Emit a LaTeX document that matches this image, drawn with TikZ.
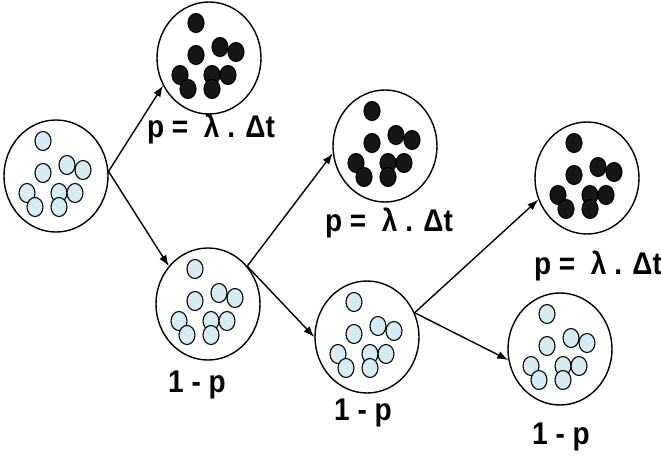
\documentclass[tikz,border=0pt]{standalone}
\usepackage{fontspec}
\setmainfont{Liberation Sans}
\usepackage{graphicx}
\usetikzlibrary{
  arrows.meta,
  shapes.geometric
}
\definecolor{paleblue}{RGB}{214,236,242}
\definecolor{inkblack}{RGB}{22,22,22}
\tikzset{
  bag/.style={ellipse,draw,line width=1.4pt,minimum width=104pt,minimum height=112pt,inner sep=0pt},
  lightdot/.style={draw,line width=1.1pt,fill=paleblue},
  darkdot/.style={draw,line width=1.1pt,fill=inkblack},
  branch/.style={-{Latex[length=11pt,width=8pt]},line width=1.4pt},
  lbl/.style={font=\fontsize{28}{32}\selectfont\bfseries,inner sep=0pt}
}
\newcommand{\tall}[1]{\scalebox{1}[1.12]{#1}}
\newcommand{\pgroup}[4]{%
  \node[bag] (#1) at (#2,#3) {};%
  \foreach \dx/\dy in {-13/-35,-13/-3,11/-11,27/-6,-29/17,3/17,19/17,-21/31,3/31}
    \draw[#4] (#2+\dx,#3+\dy) ellipse (8 and 9.5);%
}

\begin{document}
\begin{tikzpicture}[x=1pt,y=-1pt]
  \useasboundingbox (0,0) rectangle (661,455);
  % groups of particles
  \pgroup{g1}{56}{176}{lightdot}
  \pgroup{g2}{209}{58}{darkdot}
  \pgroup{g3}{208}{304}{lightdot}
  \pgroup{g4}{385}{146}{darkdot}
  \pgroup{g5}{367}{337}{lightdot}
  \pgroup{g6}{587}{178}{darkdot}
  \pgroup{g7}{560}{349}{lightdot}
  % probabilities
  \node[lbl] (p2) at (211,129) {\tall{p = \ λ . Δt}};
  \node[lbl] (p4) at (389,223) {\tall{p = \ λ . Δt}};
  \node[lbl] (p6) at (598,266) {\tall{p = \ λ . Δt}};
  \node[lbl] (q3) at (197,385) {\tall{1 - p}};
  \node[lbl] (q5) at (363,413) {\tall{1 - p}};
  \node[lbl] (q7) at (561,437) {\tall{1 - p}};
  % branches
  \draw[branch] (g1.5) -- (g2.211);
  \draw[branch] (g1.5) -- (g3.136);
  \draw[branch] (g3.44) -- (g4.188);
  \draw[branch] (g3.44) -- (g5.180);
  \draw[branch] (g5.27) -- (g6.204);
  \draw[branch] (g5.27) -- (g7.192);
\end{tikzpicture}
\end{document}
